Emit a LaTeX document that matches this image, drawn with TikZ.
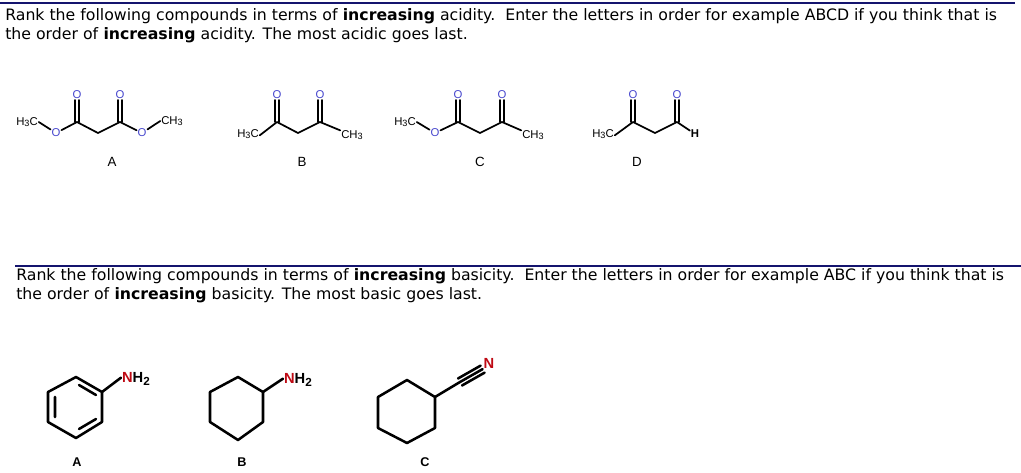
\documentclass[tikz,border=0pt]{standalone}
\usepackage{fontspec}
\setmainfont{DejaVu Sans}
\newfontfamily\atomfont{Liberation Sans}
\definecolor{oxy}{RGB}{70,70,205}
\definecolor{nit}{RGB}{190,10,20}
\definecolor{rule}{RGB}{20,20,110}
\newcommand{\sbx}[1]{\raisebox{-0.3ex}{\scalebox{0.8}{#1}}}
\begin{document}
\begin{tikzpicture}[x=0.75pt,y=-0.75pt,
  txt/.style={anchor=west,inner sep=0,font=\fontsize{11.8}{13}\selectfont},
  bd/.style={line width=1.3pt,line cap=round,line join=round},
  bbd/.style={line width=1.9pt,line cap=round,line join=round},
  atm/.style={inner sep=0.6pt,font=\atomfont\fontsize{8.5}{9}\selectfont},
  ox/.style={atm,text=oxy},
  lab/.style={inner sep=0,font=\atomfont\fontsize{10}{11}\selectfont},
  bat/.style={inner sep=0.6pt,font=\atomfont\bfseries\fontsize{11}{12}\selectfont},
  blab/.style={inner sep=0,font=\atomfont\bfseries\fontsize{9.5}{10}\selectfont}]
\useasboundingbox (0,0) rectangle (1021,472);
\draw[rule,line width=1.2pt] (0,3) -- (1015,3);
\draw[rule,line width=0.8pt] (15,266) -- (1021,266);
\node[txt] (t1) at (5,16) {Rank the following compounds in terms of \textbf{increasing} acidity.\ \ Enter the letters in order for example ABCD if you think that is};
\node[txt] (t2) at (5,35) {the order of \textbf{increasing} acidity. The most acidic goes last.};
\node[txt] (t3) at (16,276) {Rank the following compounds in terms of \textbf{increasing} basicity.\ \ Enter the letters in order for example ABC if you think that is};
\node[txt] (t4) at (16,295) {the order of \textbf{increasing} basicity. The most basic goes last.};
% ---- A
\node[atm] (a0) at (27,122) {H\sbx{3}C};
\node[ox] (a1) at (56,133) {O};
\coordinate (a2) at (77,122); \node[ox] (a2o) at (77,95) {O};
\coordinate (a3) at (98,133);
\coordinate (a4) at (120,122); \node[ox] (a4o) at (120,95) {O};
\node[ox] (a5) at (142,133) {O};
\node[atm] (a6) at (172,121) {CH\sbx{3}};
\draw[bd] (a0.east) -- (a1) -- (a2) -- (a3) -- (a4) -- (a5) -- (a6.west);
\draw[bd] ([xshift=-1.6]a2) -- ([xshift=-1.6]a2o.south) ([xshift=1.6]a2) -- ([xshift=1.6]a2o.south);
\draw[bd] ([xshift=-1.6]a4) -- ([xshift=-1.6]a4o.south) ([xshift=1.6]a4) -- ([xshift=1.6]a4o.south);
\node[lab] (la) at (112,162) {A};
% ---- B
\node[atm] (b0) at (248,134) {H\sbx{3}C};
\coordinate (b1) at (277,122); \node[ox] (b1o) at (277,95) {O};
\coordinate (b2) at (298,133);
\coordinate (b3) at (320,122); \node[ox] (b3o) at (320,95) {O};
\node[atm] (b4) at (352,135) {CH\sbx{3}};
\draw[bd] ([yshift=-1]b0.east) -- (b1) -- (b2) -- (b3) -- ([yshift=-1]b4.north west);
\draw[bd] ([xshift=-1.6]b1) -- ([xshift=-1.6]b1o.south) ([xshift=1.6]b1) -- ([xshift=1.6]b1o.south);
\draw[bd] ([xshift=-1.6]b3) -- ([xshift=-1.6]b3o.south) ([xshift=1.6]b3) -- ([xshift=1.6]b3o.south);
\node[lab] (lb) at (302,162) {B};
% ---- C
\node[atm] (c0) at (405,122) {H\sbx{3}C};
\node[ox] (c1) at (435,133) {O};
\coordinate (c2) at (458,122); \node[ox] (c2o) at (458,95) {O};
\coordinate (c3) at (480,133);
\coordinate (c4) at (502,122); \node[ox] (c4o) at (502,95) {O};
\node[atm] (c5) at (533,135) {CH\sbx{3}};
\draw[bd] (c0.east) -- (c1) -- (c2) -- (c3) -- (c4) -- ([yshift=-1]c5.north west);
\draw[bd] ([xshift=-1.6]c2) -- ([xshift=-1.6]c2o.south) ([xshift=1.6]c2) -- ([xshift=1.6]c2o.south);
\draw[bd] ([xshift=-1.6]c4) -- ([xshift=-1.6]c4o.south) ([xshift=1.6]c4) -- ([xshift=1.6]c4o.south);
\node[lab] (lc) at (480,162) {C};
% ---- D
\node[atm] (d0) at (603,134) {H\sbx{3}C};
\coordinate (d1) at (633,122); \node[ox] (d1o) at (633,95) {O};
\coordinate (d2) at (655,133);
\coordinate (d3) at (677,122); \node[ox] (d3o) at (677,95) {O};
\node[atm,font=\atomfont\bfseries\fontsize{8.5}{9}\selectfont] (d4) at (695,134) {H};
\draw[bd] ([yshift=-1]d0.east) -- (d1) -- (d2) -- (d3) -- (d4);
\draw[bd] ([xshift=-1.6]d1) -- ([xshift=-1.6]d1o.south) ([xshift=1.6]d1) -- ([xshift=1.6]d1o.south);
\draw[bd] ([xshift=-1.6]d3) -- ([xshift=-1.6]d3o.south) ([xshift=1.6]d3) -- ([xshift=1.6]d3o.south);
\node[lab] (ld) at (637,162) {D};
% ---- bottom A (aniline)
\coordinate (p1) at (76,377); \coordinate (p2) at (102,392); \coordinate (p3) at (102,422);
\coordinate (p4) at (76,438); \coordinate (p5) at (48,422); \coordinate (p6) at (48,392);
\draw[bbd] (p1) -- (p2) -- (p3) -- (p4) -- (p5) -- (p6) -- cycle;
\draw[bbd] (55,397) -- (55,417) (79,385) -- (96,395) (96,419) -- (79,429);
\node[bat,anchor=west] (n1) at (121,379) {\textcolor{nit}{N}H\sbx{2}};
\draw[bbd] (p2) -- ([yshift=1]n1.west);
\node[blab] (lA) at (77,462) {A};
% ---- bottom B
\coordinate (q1) at (238,377); \coordinate (q2) at (263,392); \coordinate (q3) at (263,422);
\coordinate (q4) at (238,440); \coordinate (q5) at (210,422); \coordinate (q6) at (210,392);
\draw[bbd] (q1) -- (q2) -- (q3) -- (q4) -- (q5) -- (q6) -- cycle;
\node[bat,anchor=west] (n2) at (283,380) {\textcolor{nit}{N}H\sbx{2}};
\draw[bbd] (q2) -- ([yshift=1]n2.west);
\node[blab] (lB) at (242,462) {B};
% ---- bottom C
\coordinate (r1) at (407,380); \coordinate (r2) at (435,397); \coordinate (r3) at (435,428);
\coordinate (r4) at (407,443); \coordinate (r5) at (378,428); \coordinate (r6) at (378,397);
\draw[bbd] (r1) -- (r2) -- (r3) -- (r4) -- (r5) -- (r6) -- cycle;
\node[bat,text=nit] (n3) at (489,363) {N};
\coordinate (r7) at (460,382);
\draw[bbd] (r2) -- (r7);
\draw[bbd] (r7) -- (n3.south west);
\draw[bbd] ([shift={(-2,-3.5)}]r7) -- ([shift={(-2,-3.5)}]n3.south west);
\draw[bbd] ([shift={(2,3.5)}]r7) -- ([shift={(2,3.5)}]n3.south west);
\node[blab] (lC) at (425,462) {C};
\end{tikzpicture}
\end{document}
